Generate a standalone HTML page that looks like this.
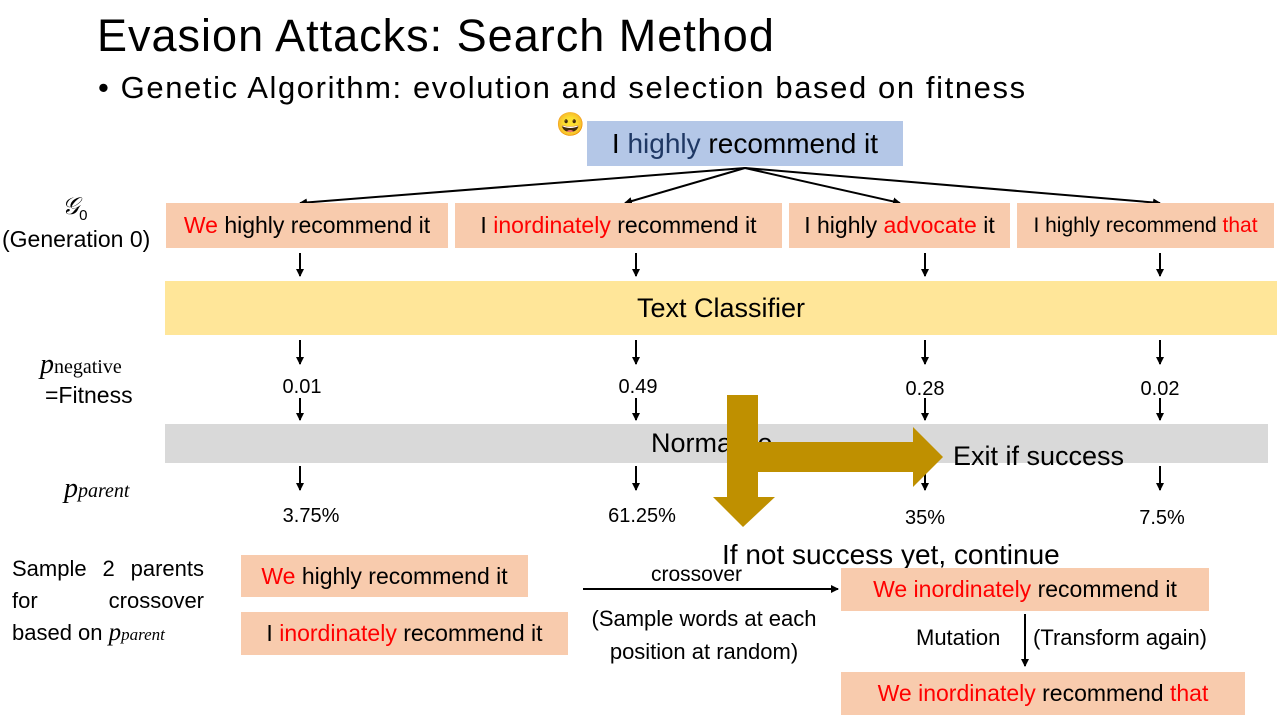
<!DOCTYPE html>
<html><head><meta charset="utf-8"><style>
body{margin:0;width:1280px;height:720px;background:#fff;position:relative;overflow:hidden;font-family:"Liberation Sans",sans-serif;color:#000}
.a{position:absolute;white-space:nowrap}
.box{position:absolute;display:flex;align-items:center;justify-content:center;white-space:nowrap}
.s{background:#f8cbad;font-size:23px}
.r{color:#ff0000}
.n{font-size:20px;transform:translateX(-50%)}
.m{font-family:"Liberation Serif",serif;font-style:italic}
</style></head><body>
<div class="a" style="left:97px;top:10px;font-size:45px;letter-spacing:1px">Evasion Attacks: Search Method</div>
<div class="a" style="left:98px;top:70px;font-size:31px;letter-spacing:1.6px">• Genetic Algorithm: evolution and selection based on fitness</div>
<div class="a" style="left:556px;top:111px;font-size:23px">😀</div>
<div class="box" style="left:587px;top:121px;width:316px;height:45px;background:#b4c7e7;font-size:28px"><span>I <span style="color:#1f3864">highly</span> recommend it</span></div>

<svg class="a" style="left:0;top:0" width="1280" height="720">
<defs><marker id="h" markerWidth="8" markerHeight="8" refX="7" refY="4" orient="auto" markerUnits="userSpaceOnUse"><path d="M0,0 L8,4 L0,8 z" fill="#000"/></marker></defs>
<g stroke="#000" stroke-width="2" fill="none" marker-end="url(#h)">
<line x1="745" y1="168" x2="300" y2="203"/>
<line x1="745" y1="168" x2="625" y2="203"/>
<line x1="745" y1="168" x2="900" y2="203"/>
<line x1="745" y1="168" x2="1160" y2="203"/>
<line x1="300" y1="253" x2="300" y2="276"/><line x1="636" y1="253" x2="636" y2="276"/><line x1="925" y1="253" x2="925" y2="276"/><line x1="1160" y1="253" x2="1160" y2="276"/>
<line x1="300" y1="340" x2="300" y2="364"/><line x1="636" y1="340" x2="636" y2="364"/><line x1="925" y1="340" x2="925" y2="364"/><line x1="1160" y1="340" x2="1160" y2="364"/>
<line x1="300" y1="398" x2="300" y2="420"/><line x1="636" y1="398" x2="636" y2="420"/><line x1="925" y1="398" x2="925" y2="420"/><line x1="1160" y1="398" x2="1160" y2="420"/>
<line x1="300" y1="466" x2="300" y2="490"/><line x1="636" y1="466" x2="636" y2="490"/><line x1="925" y1="466" x2="925" y2="490"/><line x1="1160" y1="466" x2="1160" y2="490"/>
<line x1="583" y1="589" x2="838" y2="589"/>
<line x1="1025" y1="614" x2="1025" y2="666"/>
</g>
</svg>

<div class="a" style="left:62px;top:193px;font-size:24px"><span class="m">𝒢</span><sub style="font-size:15px">0</sub></div>
<div class="a" style="left:2px;top:226px;font-size:23px">(Generation 0)</div>
<div class="box s" style="left:166px;top:203px;width:282px;height:45px"><span><span class="r">We</span> highly recommend it</span></div>
<div class="box s" style="left:455px;top:203px;width:327px;height:45px"><span>I <span class="r">inordinately</span> recommend it</span></div>
<div class="box s" style="left:789px;top:203px;width:221px;height:45px"><span>I highly <span class="r">advocate</span> it</span></div>
<div class="box s" style="left:1017px;top:203px;width:257px;height:45px;font-size:21px"><span>I highly recommend <span class="r">that</span></span></div>

<div class="box" style="left:165px;top:281px;width:1112px;height:54px;background:#ffe699;font-size:27px">Text Classifier</div>

<div class="a" style="left:40px;top:348px;font-size:28px"><span class="m">p</span><span style="font-family:'Liberation Serif',serif;font-size:20px">negative</span></div>
<div class="a" style="left:45px;top:382px;font-size:23px">=Fitness</div>
<div class="a n" style="left:302px;top:376px">0.01</div>
<div class="a n" style="left:638px;top:376px">0.49</div>
<div class="a n" style="left:925px;top:378px">0.28</div>
<div class="a n" style="left:1160px;top:378px">0.02</div>

<div class="box" style="left:165px;top:424px;width:1103px;height:39px;background:#d9d9d9;font-size:27px;justify-content:flex-start"><span style="margin-left:486px">Normalize</span></div>

<div class="a" style="left:64px;top:472px;font-size:28px"><span class="m">p</span><span class="m" style="font-size:20px">parent</span></div>
<div class="a n" style="left:311px;top:505px">3.75%</div>
<div class="a n" style="left:642px;top:505px">61.25%</div>
<div class="a n" style="left:925px;top:507px">35%</div>
<div class="a n" style="left:1162px;top:507px">7.5%</div>

<svg class="a" style="left:0;top:0" width="1280" height="720">
<polygon fill="#bf9000" points="727,395 758,395 758,497 775,497 743,527 713,497 727,497"/>
<polygon fill="#bf9000" points="758,442 913,442 913,427 943,457 913,487 913,472 758,472"/>
</svg>
<div class="a" style="left:953px;top:441px;font-size:27px">Exit if success</div>
<div class="a" style="left:722px;top:539px;font-size:28px">If not success yet, continue</div>

<div class="a" style="left:12px;top:553px;font-size:22px;line-height:32px;width:192px">
<div style="display:flex;justify-content:space-between"><span>Sample</span><span>2</span><span>parents</span></div>
<div style="display:flex;justify-content:space-between"><span>for</span><span>crossover</span></div>
<div>based on <span class="m" style="font-size:25px">p</span><span class="m" style="font-size:17px">parent</span></div>
</div>
<div class="box s" style="left:241px;top:555px;width:287px;height:42px"><span><span class="r">We</span> highly recommend it</span></div>
<div class="box s" style="left:241px;top:612px;width:327px;height:43px"><span>I <span class="r">inordinately</span> recommend it</span></div>
<div class="a" style="left:651px;top:563px;font-size:21px">crossover</div>
<div class="a" style="left:575px;top:602px;font-size:22px;line-height:33px;text-align:center;width:258px">(Sample words at each<br>position at random)</div>
<div class="box s" style="left:841px;top:568px;width:368px;height:43px"><span><span class="r">We inordinately</span> recommend it</span></div>
<div class="a" style="left:916px;top:625px;font-size:22px">Mutation</div>
<div class="a" style="left:1033px;top:625px;font-size:22px">(Transform again)</div>
<div class="a" style="left:862px;top:680px;font-size:23px"><span class="m">𝒢</span><sub style="font-size:14px">1</sub></div>
<div class="box s" style="left:841px;top:672px;width:404px;height:43px"><span><span class="r">We inordinately</span> recommend <span class="r">that</span></span></div>
</body></html>
